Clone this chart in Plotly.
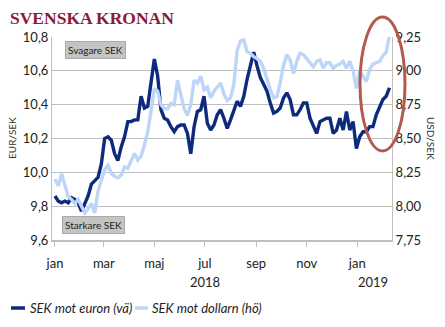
import plotly.graph_objects as go
import pandas as pd

# ---- data ----
start_date = "2018-01-01"
step = "4D"

sek_eur = [9.86, 9.83, 9.82, 9.83, 9.82, 9.85, 9.84, 9.82, 9.77, 9.81,
           9.86, 9.93, 9.95, 9.97, 10.05, 10.20, 10.21, 10.19, 10.11, 10.07,
           10.15, 10.21, 10.30, 10.30, 10.31, 10.31, 10.45, 10.38, 10.39, 10.55,
           10.67, 10.57, 10.37, 10.32, 10.31, 10.27, 10.24, 10.27, 10.28, 10.28,
           10.23, 10.11, 10.27, 10.36, 10.37, 10.45, 10.29, 10.25, 10.28, 10.34,
           10.37, 10.32, 10.26, 10.31, 10.36, 10.42, 10.39, 10.45, 10.55, 10.63,
           10.71, 10.63, 10.56, 10.52, 10.48, 10.41, 10.35, 10.36, 10.38, 10.44,
           10.47, 10.43, 10.34, 10.34, 10.37, 10.41, 10.41, 10.32, 10.28, 10.23,
           10.30, 10.31, 10.32, 10.32, 10.23, 10.25, 10.32, 10.25, 10.36, 10.25,
           10.30, 10.14, 10.21, 10.24, 10.24, 10.27, 10.27, 10.34, 10.39, 10.43,
           10.45, 10.50]

sek_usd = [8.20, 8.15, 8.24, 8.16, 8.07, 8.05, 8.02, 8.05, 8.00, 7.95,
           7.98, 8.02, 7.95, 8.11, 8.19, 8.27, 8.30, 8.24, 8.22, 8.21,
           8.23, 8.29, 8.28, 8.33, 8.39, 8.34, 8.37, 8.45, 8.55, 8.70,
           8.87, 8.85, 8.75, 8.72, 8.72, 8.76, 8.75, 8.93, 8.83, 8.72,
           8.67, 8.75, 8.93, 8.91, 8.96, 8.86, 8.88, 8.80, 8.85, 8.88,
           8.91, 8.83, 8.78, 8.80, 8.90, 9.15, 9.22, 9.23, 9.14, 9.13,
           9.105, 9.09, 9.07, 9.02, 8.93, 8.86, 8.80, 8.81, 8.91, 9.04,
           9.12, 9.08, 8.98, 9.07, 9.13, 9.12, 9.09, 9.055, 9.03, 9.07,
           9.08, 9.02, 9.06, 9.06, 9.02, 9.04, 9.05, 9.07, 9.02, 9.07,
           9.00, 8.87, 9.00, 8.96, 8.92, 9.01, 9.05, 9.06, 9.07, 9.11,
           9.14, 9.265]

tick_dates = ["2018-01-01", "2018-03-01", "2018-05-01", "2018-07-01",
              "2018-09-01", "2018-11-01", "2019-01-01"]
tick_labels = ["jan", "mar", "maj", "jul", "sep", "nov", "jan"]
year_labels = ["2018", "2019"]
series_names = ["SEK mot euron (vä)", "SEK mot dollarn (hö)"]

dates = pd.date_range(start_date, periods=len(sek_eur), freq=step)

DARK = "#0D2A7D"
LIGHT = "#BCD5F9"
GRID = "#BFBFBF"
FONT = "Lato"

W, H = 445, 327
L, R, T, B = 52, 392, 37, 240


def px(x):
    return (x - L) / (R - L)


def py(y):
    return (B - y) / (B - T)


fig = go.Figure()
fig.add_trace(go.Scatter(x=dates, y=sek_usd, yaxis="y2", mode="lines",
                         line=dict(color=LIGHT, width=3.4), name=series_names[1],
                         showlegend=False))
fig.add_trace(go.Scatter(x=dates, y=sek_eur, mode="lines",
                         line=dict(color=DARK, width=3.4), name=series_names[0],
                         showlegend=False))

fig.update_layout(
    width=W, height=H,
    margin=dict(l=L, r=W - R, t=T, b=H - B),
    paper_bgcolor="white", plot_bgcolor="white",
    separators=", ",
    font=dict(family=FONT, size=13, color="#222"),
    xaxis=dict(
        type="date",
        range=["2017-12-28 10:00", "2019-02-12"],
        tickvals=tick_dates, ticktext=tick_labels,
        ticks="outside", ticklen=5, tickcolor=GRID, tickwidth=1,
        ticklabelstandoff=5,
        showgrid=False, showline=True, linecolor=GRID, linewidth=2,
        tickfont=dict(size=13, color="#222"),
        zeroline=False,
    ),
    yaxis=dict(
        range=[9.6, 10.8], dtick=0.2, tick0=9.6, tickformat=".1f",
        showgrid=True, gridcolor=GRID, gridwidth=1,
        showline=True, linecolor=GRID, linewidth=1,
        ticks="", zeroline=False,
        tickfont=dict(size=13, color="#222"),
    ),
    yaxis2=dict(
        range=[7.75, 9.25], dtick=0.25, tick0=7.75, tickformat=".2f",
        overlaying="y", side="right", showgrid=False,
        showline=True, linecolor=GRID, linewidth=1,
        ticks="", zeroline=False,
        tickfont=dict(size=13, color="#222"),
    ),
    showlegend=False,
)


def note(text, x, y, xanchor="center", size=13, family=FONT, color="#222", **kw):
    return dict(text=text, x=px(x), y=py(y), xref="paper", yref="paper",
                xanchor=xanchor, yanchor="middle", showarrow=False,
                font=dict(family=family, size=size, color=color), **kw)


ann = [
    note("<b>SVENSKA KRONAN</b>", 8, 18, xanchor="left", size=17.5,
         family="Liberation Serif", color="#8B1A35"),
    note("EUR/SEK", 12, 138, size=10, color="#333", textangle=-90),
    note("USD/SEK", 431, 138, size=10, color="#333", textangle=90),
    note("Svagare SEK", 95, 50, size=10, bgcolor="#C4C4C4",
         bordercolor="#AAAAAA", borderwidth=1, borderpad=2),
    note("Starkare SEK", 93, 225, size=10, bgcolor="#C4C4C4",
         bordercolor="#AAAAAA", borderwidth=1, borderpad=2),
    note(year_labels[0], 205, 282),
    note(year_labels[1], 373, 282),
    note("<i>" + series_names[0] + "</i>", 28, 308, xanchor="left", size=13),
    note("<i>" + series_names[1] + "</i>", 150, 308, xanchor="left", size=13),
]
fig.update_layout(annotations=ann)

shapes = [
    dict(type="line", xref="paper", yref="paper", x0=px(11), x1=px(25),
         y0=py(308), y1=py(308), line=dict(color=DARK, width=3.5)),
    dict(type="line", xref="paper", yref="paper", x0=px(135), x1=px(148),
         y0=py(308), y1=py(308), line=dict(color=LIGHT, width=3.5)),
    dict(type="circle", xref="paper", yref="paper", x0=px(360), x1=px(405),
         y0=py(151), y1=py(17), line=dict(color="#B35A4E", width=3)),
]
fig.update_layout(shapes=shapes)

fig.write_html("out.html")
